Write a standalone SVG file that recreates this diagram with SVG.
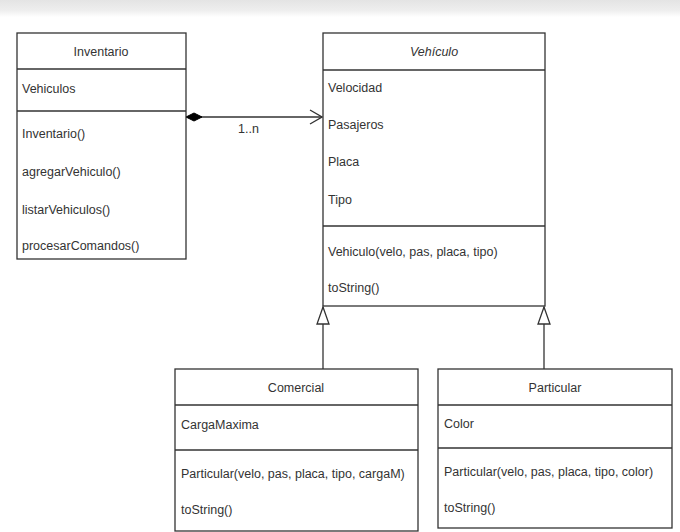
<svg xmlns="http://www.w3.org/2000/svg" width="680" height="532" viewBox="0 0 680 532">
<defs>
<style>
.box{fill:#fff;stroke:#333;stroke-width:1.3}
.div{stroke:#333;stroke-width:1.3;fill:none}
.t{font-family:"Liberation Sans",Arial,sans-serif;font-size:12.5px;fill:#333}
.c{text-anchor:middle}
.i{font-style:italic}
.ln{stroke:#333;stroke-width:1.3;fill:none}
</style>
<linearGradient id="band" x1="0" y1="0" x2="0" y2="1">
<stop offset="0" stop-color="#e4e4e4"/>
<stop offset="0.6" stop-color="#eeeeee"/>
<stop offset="1" stop-color="#ffffff"/>
</linearGradient>
<marker id="diamond" markerWidth="18" markerHeight="10" refX="1" refY="5" orient="auto" markerUnits="userSpaceOnUse">
<path d="M1,5 L9,1 L17,5 L9,9 Z" fill="#000" stroke="#000" stroke-width="1"/>
</marker>
<marker id="open" markerWidth="14" markerHeight="16" refX="13" refY="8" orient="auto" markerUnits="userSpaceOnUse">
<path d="M1,1 L13,8 L1,15" fill="none" stroke="#333" stroke-width="1.3"/>
</marker>
<marker id="tri" markerWidth="20" markerHeight="14" refX="18" refY="7" orient="auto" markerUnits="userSpaceOnUse">
<path d="M18,7 L1,1 L1,13 Z" fill="#fff" stroke="#333" stroke-width="1.3"/>
</marker>
</defs>
<rect x="0" y="0" width="680" height="532" fill="#fff"/>
<rect x="0" y="0" width="680" height="17" fill="url(#band)"/>

<g id="connectors">
<line class="ln" x1="186" y1="117" x2="322" y2="117" marker-start="url(#diamond)" marker-end="url(#open)"/>
<text class="t" x="238" y="133">1..n</text>
<line class="ln" x1="323" y1="369" x2="323" y2="307" marker-end="url(#tri)"/>
<line class="ln" x1="544" y1="369" x2="544" y2="307" marker-end="url(#tri)"/>
</g>

<g id="inventario">
<rect class="box" x="17" y="33" width="169" height="226"/>
<line class="div" x1="17" y1="69" x2="186" y2="69"/>
<line class="div" x1="17" y1="111" x2="186" y2="111"/>
<text class="t c" x="101" y="56">Inventario</text>
<text class="t" x="22" y="93">Vehiculos</text>
<text class="t" x="22" y="138">Inventario()</text>
<text class="t" x="22" y="176">agregarVehiculo()</text>
<text class="t" x="22" y="214">listarVehiculos()</text>
<text class="t" x="22" y="250">procesarComandos()</text>
</g>

<g id="vehiculo">
<rect class="box" x="323" y="33" width="222" height="273"/>
<line class="div" x1="323" y1="70" x2="545" y2="70"/>
<line class="div" x1="323" y1="226" x2="545" y2="226"/>
<text class="t c i" x="434" y="56">Vehículo</text>
<text class="t" x="328" y="92">Velocidad</text>
<text class="t" x="328" y="129">Pasajeros</text>
<text class="t" x="328" y="166">Placa</text>
<text class="t" x="328" y="204">Tipo</text>
<text class="t" x="328" y="256">Vehiculo(velo, pas, placa, tipo)</text>
<text class="t" x="328" y="292">toString()</text>
</g>

<g id="comercial">
<rect class="box" x="175" y="369" width="243" height="162"/>
<line class="div" x1="175" y1="405" x2="418" y2="405"/>
<line class="div" x1="175" y1="450" x2="418" y2="450"/>
<text class="t c" x="296" y="392">Comercial</text>
<text class="t" x="181" y="429">CargaMaxima</text>
<text class="t" x="181" y="478">Particular(velo, pas, placa, tipo, cargaM)</text>
<text class="t" x="181" y="514">toString()</text>
</g>

<g id="particular">
<rect class="box" x="438" y="369" width="234" height="159"/>
<line class="div" x1="438" y1="405" x2="672" y2="405"/>
<line class="div" x1="438" y1="448" x2="672" y2="448"/>
<text class="t c" x="555" y="392">Particular</text>
<text class="t" x="444" y="428">Color</text>
<text class="t" x="444" y="476">Particular(velo, pas, placa, tipo, color)</text>
<text class="t" x="444" y="512">toString()</text>
</g>
</svg>
